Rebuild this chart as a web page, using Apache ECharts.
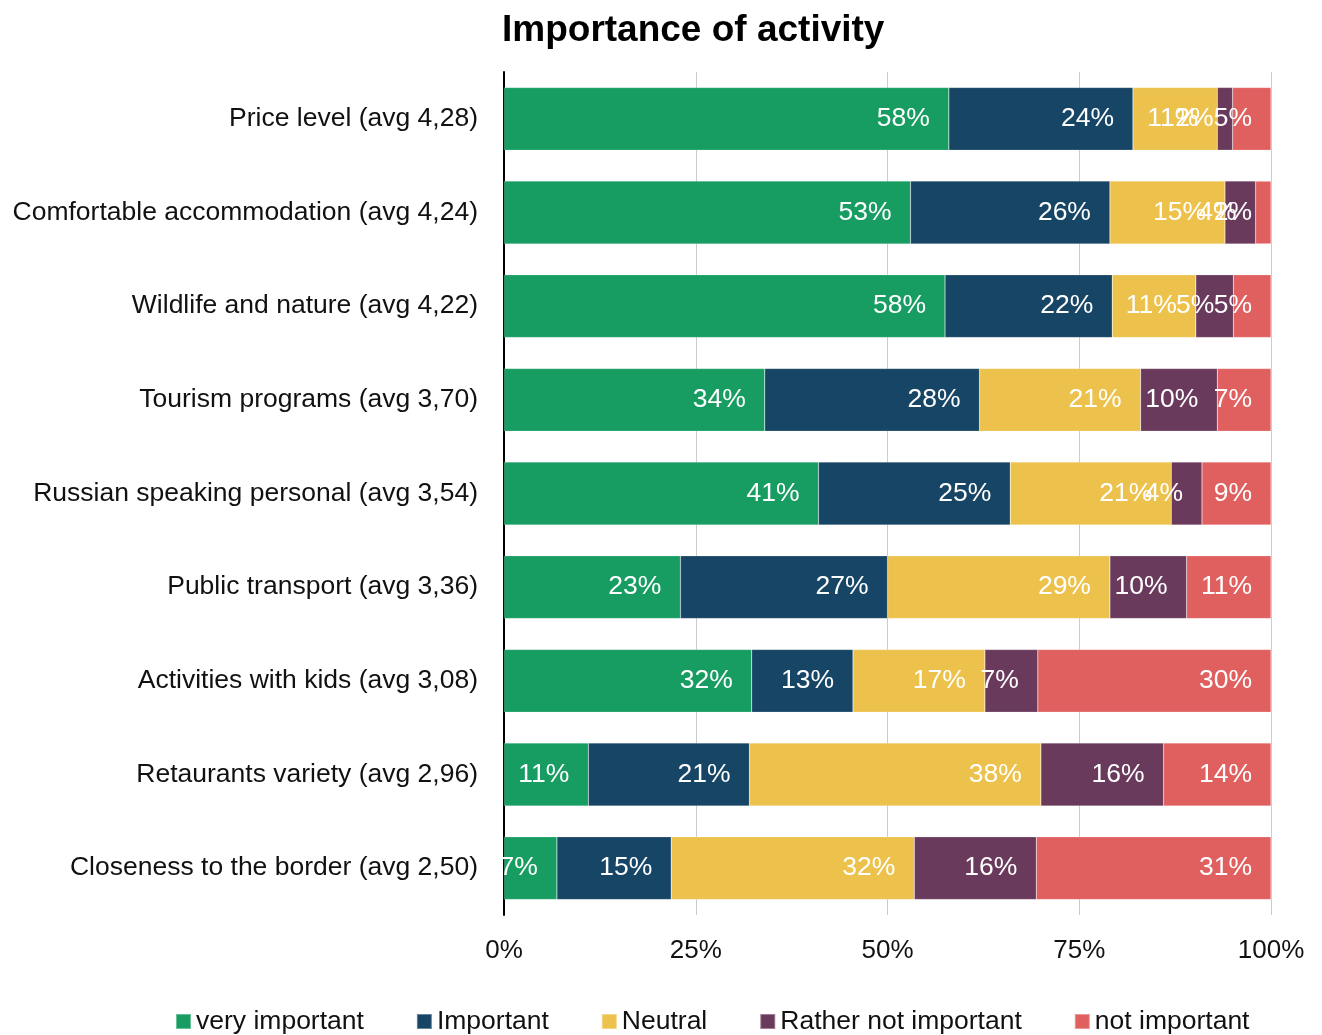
<!DOCTYPE html>
<html>
<head>
<meta charset="utf-8">
<script src="https://cdn.jsdelivr.net/npm/echarts@6/dist/echarts.min.js"></script>
<style>
  html, body { margin: 0; padding: 0; background: #ffffff; }
  #chart { width: 1322px; height: 1035px; }
</style>
</head>
<body>
<div id="chart"></div>
<script>
// Survey answers, share of respondents per activity (percent)
const categories = [
  'Price level (avg 4,28)',
  'Comfortable accommodation (avg 4,24)',
  'Wildlife and nature (avg 4,22)',
  'Tourism programs (avg 3,70)',
  'Russian speaking personal (avg 3,54)',
  'Public transport (avg 3,36)',
  'Activities with kids (avg 3,08)',
  'Retaurants variety (avg 2,96)',
  'Closeness to the border (avg 2,50)'
];
const veryImportant      = [58, 53, 57.5, 34, 41, 23, 32.3, 11, 6.9];
const important          = [24, 26, 21.8, 28, 25, 27, 13.2, 21, 14.9];
const neutral            = [11, 15, 10.9, 21, 21, 29, 17.2, 38, 31.7];
const ratherNotImportant = [2, 4, 4.9, 10, 4, 10, 6.9, 16, 15.9];
const notImportant       = [5, 2, 4.9, 7, 9, 11, 30.4, 14, 30.6];

const seriesNames = ['very important', 'Important', 'Neutral', 'Rather not important', 'not important'];
const seriesData = [veryImportant, important, neutral, ratherNotImportant, notImportant];
const colors = ['#179d62', '#174566', '#edc24c', '#6a3a5c', '#e06060'];
const axisTicks = [0, 25, 50, 75, 100];

const FONT = '"Liberation Sans", Arial, Helvetica, sans-serif';

const chart = echarts.init(document.getElementById('chart'), null, { renderer: 'canvas' });

chart.setOption({
  animation: false,
  color: colors,
  textStyle: { fontFamily: FONT },
  title: {
    text: 'Importance of activity',
    left: 497,
    top: 7,
    textStyle: { fontFamily: FONT, fontSize: 37, fontWeight: 'bold', color: '#000' }
  },
  legend: {
    bottom: -5,
    left: 170,
    itemWidth: 15,
    itemHeight: 15,
    itemGap: 52,
    icon: 'rect',
    textStyle: { fontFamily: FONT, fontSize: 26.5, color: '#111' },
    data: seriesNames
  },
  grid: { left: 504, right: 51, top: 72, bottom: 120, containLabel: false },
  xAxis: {
    type: 'value',
    min: 0,
    max: 100,
    interval: 25,
    axisLine: { show: false },
    axisTick: { show: false },
    splitLine: { show: true, lineStyle: { color: '#cccccc', width: 1 } },
    axisLabel: {
      margin: 23,
      fontFamily: FONT,
      fontSize: 26,
      color: '#111',
      formatter: v => (axisTicks.includes(v) ? v + '%' : '')
    }
  },
  yAxis: {
    type: 'category',
    inverse: true,
    data: categories,
    axisLine: { show: true, lineStyle: { color: '#000', width: 2 } },
    axisTick: { show: false },
    axisLabel: { margin: 26, fontFamily: FONT, fontSize: 26.5, color: '#111', padding: [7, 0, 0, 0] }
  },
  series: seriesData.map((d, i) => ({
    name: seriesNames[i],
    type: 'bar',
    stack: 'total',
    barCategoryGap: '33%',
    data: d,
    itemStyle: { color: colors[i], borderColor: 'rgba(255,255,255,0.35)', borderWidth: 0.5 },
    label: {
      show: true,
      position: 'insideRight',
      distance: 19,
      fontFamily: FONT,
      fontSize: 26.5,
      color: '#fff',
      padding: [7, 0, 0, 0],
      formatter: p => Math.round(p.value) + '%'
    },
    z: 3
  }))
});
</script>
</body>
</html>
